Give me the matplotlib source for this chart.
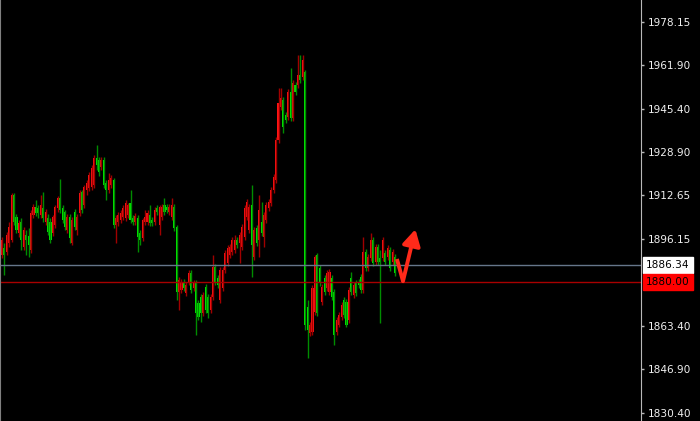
import matplotlib
matplotlib.use('Agg')
import matplotlib.pyplot as plt
from matplotlib.transforms import blended_transform_factory

# OHLC prices, oldest first
opens = [1890.1, 1892.7, 1891.2, 1894.6, 1895.7, 1912.8, 1904.4, 1898.4, 1902.5, 1893.1,
         1897.6, 1897.3, 1892.0, 1905.2, 1908.2, 1907.8, 1905.2, 1907.8, 1902.5, 1904.1,
         1902.5, 1898.4, 1901.4, 1907.8, 1911.6, 1907.8, 1906.3, 1899.5, 1904.4, 1894.6,
         1906.3, 1899.5, 1906.0, 1913.9, 1909.0, 1914.6, 1915.4, 1915.8, 1916.5, 1926.7,
         1926.0, 1923.3, 1926.0, 1917.3, 1914.6, 1916.5, 1918.4, 1901.4, 1902.5, 1903.3,
         1904.4, 1904.1, 1905.2, 1909.7, 1904.1, 1902.5, 1904.1, 1898.4, 1896.5, 1902.5,
         1902.5, 1905.2, 1903.3, 1902.5, 1907.8, 1901.4, 1904.4, 1909.0, 1908.2, 1906.3,
         1904.4, 1908.2, 1900.7, 1876.1, 1876.8, 1879.9, 1875.7, 1879.9, 1883.3, 1877.6,
         1879.5, 1871.9, 1874.2, 1868.1, 1878.0, 1874.2, 1869.3, 1874.2, 1885.5, 1881.4,
         1873.1, 1877.6, 1884.4, 1887.0, 1890.1, 1891.2, 1892.0, 1895.7, 1894.6, 1893.1,
         1896.9, 1904.4, 1899.5, 1909.0, 1889.3, 1900.3, 1895.7, 1902.5, 1896.9, 1903.3,
         1907.8, 1909.7, 1914.6, 1918.4, 1933.5, 1946.0, 1948.7, 1943.0, 1942.2, 1951.7,
         1941.9, 1954.3, 1954.3, 1958.1, 1957.4, 1959.2, 1870.4, 1860.6, 1861.0, 1868.5,
         1890.1, 1885.2, 1872.3, 1881.4, 1877.6, 1876.1, 1881.4, 1876.1, 1861.0, 1863.6,
         1866.6, 1873.1, 1872.3, 1865.5, 1881.4, 1874.9, 1879.5, 1879.9, 1881.8, 1876.8,
         1891.2, 1885.2, 1888.9, 1895.7, 1887.4, 1893.1, 1888.9, 1888.9, 1890.8, 1889.3,
         1892.0, 1887.4, 1889.3]
highs = [1896.9, 1894.6, 1898.8, 1902.5, 1913.5, 1913.5, 1905.6, 1903.3, 1904.1, 1900.7,
         1899.5, 1900.3, 1907.1, 1909.3, 1910.9, 1909.0, 1912.8, 1913.9, 1907.5, 1905.6,
         1904.1, 1905.2, 1909.0, 1912.4, 1918.8, 1909.0, 1907.1, 1905.6, 1905.6, 1904.4,
         1907.5, 1905.6, 1914.6, 1914.6, 1916.5, 1918.4, 1921.4, 1924.1, 1927.9, 1931.6,
         1927.1, 1927.1, 1927.1, 1918.4, 1921.1, 1920.3, 1919.2, 1905.2, 1906.3, 1907.1,
         1909.0, 1910.9, 1909.7, 1914.6, 1905.2, 1906.0, 1905.2, 1899.5, 1904.1, 1907.1,
         1907.1, 1909.0, 1904.4, 1908.2, 1909.0, 1909.0, 1909.3, 1911.6, 1909.3, 1909.3,
         1911.6, 1909.3, 1901.4, 1881.8, 1881.0, 1881.0, 1879.9, 1884.4, 1884.4, 1880.6,
         1880.6, 1873.1, 1875.3, 1876.1, 1879.1, 1875.3, 1875.3, 1890.1, 1886.7, 1882.5,
         1885.5, 1885.5, 1892.0, 1893.9, 1894.2, 1896.9, 1897.6, 1896.9, 1898.8, 1901.8,
         1909.0, 1911.2, 1909.3, 1916.5, 1900.7, 1901.4, 1912.8, 1910.1, 1906.3, 1910.1,
         1911.2, 1915.8, 1920.7, 1934.7, 1953.2, 1953.2, 1949.8, 1944.1, 1952.8, 1960.8,
         1956.2, 1955.5, 1965.7, 1965.7, 1965.7, 1960.0, 1873.1, 1864.7, 1878.7, 1890.1,
         1890.8, 1886.3, 1879.1, 1882.5, 1884.4, 1884.8, 1882.5, 1877.2, 1866.6, 1868.5,
         1872.3, 1874.2, 1873.4, 1878.0, 1883.6, 1879.9, 1880.6, 1881.0, 1882.9, 1896.9,
         1892.3, 1890.4, 1898.4, 1896.9, 1894.2, 1894.2, 1892.0, 1896.9, 1892.0, 1893.9,
         1893.1, 1892.3, 1890.4]
lows = [1888.9, 1882.5, 1890.1, 1893.1, 1895.0, 1901.4, 1898.4, 1896.9, 1892.0, 1892.0,
        1890.1, 1889.3, 1890.8, 1904.1, 1904.8, 1904.1, 1904.1, 1902.5, 1901.4, 1897.6,
        1894.6, 1897.3, 1900.3, 1906.3, 1906.0, 1902.2, 1899.5, 1898.4, 1894.6, 1893.9,
        1899.5, 1897.6, 1904.8, 1906.0, 1907.8, 1912.8, 1914.3, 1914.6, 1915.4, 1922.2,
        1919.9, 1922.2, 1915.4, 1910.9, 1913.5, 1915.4, 1900.3, 1894.6, 1901.0, 1902.2,
        1903.3, 1902.9, 1904.1, 1902.2, 1901.4, 1901.4, 1891.2, 1893.9, 1895.4, 1901.4,
        1901.4, 1901.0, 1901.0, 1901.4, 1905.2, 1897.6, 1903.3, 1905.2, 1906.0, 1905.2,
        1903.3, 1899.1, 1873.1, 1869.3, 1875.7, 1876.5, 1874.6, 1878.7, 1875.7, 1876.5,
        1859.8, 1865.5, 1864.7, 1867.0, 1868.1, 1866.3, 1868.1, 1873.1, 1878.7, 1877.6,
        1871.9, 1876.5, 1883.3, 1885.9, 1888.9, 1890.1, 1890.8, 1892.7, 1887.0, 1892.0,
        1895.7, 1903.3, 1898.4, 1881.8, 1888.2, 1893.5, 1889.3, 1897.3, 1893.1, 1902.2,
        1906.7, 1908.6, 1913.5, 1917.3, 1932.4, 1944.9, 1936.2, 1940.0, 1941.1, 1940.7,
        1940.7, 1950.5, 1953.2, 1955.1, 1956.2, 1861.7, 1851.1, 1859.4, 1859.8, 1867.4,
        1867.0, 1878.4, 1871.2, 1874.9, 1876.5, 1874.9, 1873.1, 1856.1, 1859.8, 1862.8,
        1865.5, 1866.3, 1862.8, 1864.4, 1874.9, 1873.8, 1874.6, 1877.6, 1875.7, 1875.7,
        1884.0, 1884.0, 1887.8, 1885.9, 1886.3, 1886.3, 1864.4, 1887.8, 1886.3, 1888.2,
        1884.0, 1886.3, 1882.1]
closes = [1895.7, 1890.1, 1897.6, 1900.7, 1912.8, 1902.5, 1899.5, 1902.2, 1895.7, 1899.5,
          1895.7, 1893.9, 1906.0, 1908.2, 1906.0, 1906.0, 1909.0, 1904.1, 1906.3, 1898.8,
          1895.7, 1904.4, 1908.2, 1911.6, 1907.1, 1903.3, 1900.7, 1904.4, 1896.5, 1903.3,
          1900.7, 1904.4, 1913.5, 1907.1, 1915.8, 1917.3, 1920.3, 1923.0, 1926.7, 1924.1,
          1921.4, 1926.0, 1916.5, 1914.6, 1918.4, 1919.2, 1901.4, 1904.1, 1905.2, 1906.0,
          1907.8, 1909.7, 1909.0, 1903.3, 1902.5, 1904.8, 1896.9, 1895.7, 1903.3, 1904.4,
          1906.0, 1902.2, 1902.2, 1907.1, 1906.3, 1908.2, 1908.2, 1906.3, 1907.1, 1908.2,
          1909.0, 1900.3, 1876.1, 1880.6, 1879.9, 1877.6, 1878.7, 1883.3, 1876.8, 1879.5,
          1868.1, 1866.6, 1868.1, 1874.9, 1869.3, 1868.1, 1874.2, 1885.5, 1879.9, 1878.7,
          1884.4, 1884.4, 1890.8, 1892.7, 1893.1, 1895.7, 1895.7, 1893.9, 1897.6, 1900.7,
          1907.8, 1910.1, 1908.2, 1893.9, 1899.5, 1894.6, 1907.1, 1898.4, 1905.2, 1909.0,
          1910.1, 1914.6, 1919.5, 1933.5, 1947.5, 1949.4, 1938.5, 1941.1, 1951.7, 1941.9,
          1955.1, 1951.7, 1958.1, 1956.2, 1963.8, 1863.6, 1861.7, 1863.6, 1877.6, 1889.3,
          1868.1, 1879.5, 1878.0, 1876.1, 1883.3, 1883.6, 1874.2, 1859.8, 1865.5, 1867.4,
          1871.2, 1867.4, 1863.6, 1876.8, 1876.1, 1878.7, 1875.7, 1878.7, 1876.8, 1891.2,
          1885.2, 1889.3, 1895.7, 1887.0, 1893.1, 1887.4, 1887.4, 1895.7, 1887.4, 1892.7,
          1885.2, 1891.2, 1883.3]

tick_prices = [1978.15, 1961.90, 1945.40, 1928.90, 1912.65, 1896.15, 1863.40, 1846.90, 1830.40]
tick_labels = ['1978.15', '1961.90', '1945.40', '1928.90', '1912.65', '1896.15',
               '1863.40', '1846.90', '1830.40']
bid_price = 1886.34
level_price = 1880.00

fig = plt.figure(figsize=(7, 4.21), dpi=100, facecolor='black')
ax = fig.add_axes([0, 0, 641 / 700, 1])
ax.set_facecolor('black')

xs = list(range(len(closes)))
up = [c >= o for o, c in zip(opens, closes)]
body_col = ['#ff1414' if u else '#00f000' for u in up]
wick_col = ['#a00000' if u else '#008c00' for u in up]

ax.vlines(xs, lows, highs, colors=wick_col, lw=1.0)
ax.bar(xs, [c - o for o, c in zip(opens, closes)], bottom=opens, width=0.86,
       color=body_col, linewidth=0)

ax.axhline(bid_price, color='#66768a', lw=1)
ax.axhline(level_price, color='#a80000', lw=1)

# hand drawn arrow after the last bar
ax.plot([162.8, 165.3], [1888.6, 1880.2], color='#ff2a1a', lw=2.8, solid_capstyle='butt')
ax.annotate('', xy=(170.4, 1899.8), xytext=(165.3, 1880.2),
            arrowprops=dict(arrowstyle='-|>,head_length=0.8,head_width=0.45', color='#ff2a1a',
                            lw=2.8, shrinkA=0, shrinkB=0, mutation_scale=12))

ax.set_xlim(-0.8, 263.4)
ax.set_ylim(1827.38, 1986.46)
ax.set_xticks([])
ax.yaxis.tick_right()
ax.set_yticks(tick_prices)
ax.set_yticklabels(tick_labels)
ax.tick_params(axis='y', colors='#b8b8b8', labelcolor='#f0f0f0', length=2.5, width=1,
               pad=2.5, labelsize=7.6)
for s in ['top', 'bottom']:
    ax.spines[s].set_visible(False)
ax.spines['right'].set_color('#b8b8b8')
ax.spines['left'].set_color('#808080')

trans = blended_transform_factory(ax.transAxes, ax.transData)
ax.annotate('%.2f' % bid_price, xy=(1, bid_price), xycoords=trans, xytext=(3.5, 0),
            textcoords='offset points', ha='left', va='center', fontsize=7.6, color='black',
            bbox=dict(boxstyle='square,pad=0.3', fc='white', ec='white'), annotation_clip=False)
ax.annotate('%.2f' % level_price, xy=(1, level_price), xycoords=trans, xytext=(3.5, 0),
            textcoords='offset points', ha='left', va='center', fontsize=7.6, color='black',
            bbox=dict(boxstyle='square,pad=0.3', fc='#ff0000', ec='#ff0000'), annotation_clip=False)

fig.savefig('out.png', dpi=100, facecolor='black')
